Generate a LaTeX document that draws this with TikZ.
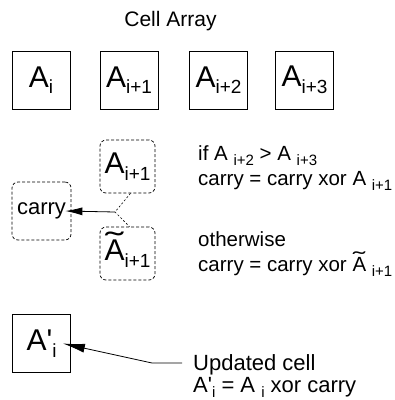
\documentclass[tikz,border=0pt]{standalone}
\usepackage{fontspec}
\usepackage{graphicx}
\setmainfont{Liberation Sans}
\usetikzlibrary{arrows.meta}
\newcommand{\fs}[1]{\fontsize{#1}{#1}\selectfont}
\newcommand{\cellA}[2]{{\fs{30}#1\raisebox{-6.5pt}{\fs{19}#2}}}
\newcommand{\lsub}[1]{\raisebox{-5pt}{\fs{15}#1}}
\newcommand{\tA}[1]{{\ooalign{A\cr\hidewidth\raisebox{#1}{\scalebox{1.8}[1]{\char"02DC}}\hidewidth\cr}}}
\begin{document}
\begin{tikzpicture}[x=1pt,y=-1pt,
  cell/.style={draw,line width=0.8pt,minimum width=58pt,minimum height=58pt,inner sep=0pt},
  dbox/.style={draw,line width=0.7pt,dash pattern=on 3pt off 2pt,rounded corners=6pt,minimum width=55pt,minimum height=53pt,inner sep=0pt},
  txt/.style={anchor=base west,inner sep=0pt,font=\fs{20.5}},
  dline/.style={line width=0.6pt,dash pattern=on 2pt off 2pt},
  arr/.style={line width=0.8pt,-{Latex[length=17pt,width=8pt]}},
  arrb/.style={line width=0.8pt,-{Latex[length=22pt,width=9pt]}},
  ]
\useasboundingbox (0,0) rectangle (395,400);
% title
\node[anchor=base,inner sep=0pt,font=\fs{21}] (title) at (170.5,26) {Cell Array};
% cell array
\node[cell] (c0) at (41,80) {\cellA{A}{i}};
\node[cell] (c1) at (129,80) {\cellA{A}{i+1}};
\node[cell] (c2) at (218.5,80) {\cellA{A}{i+2}};
\node[cell] (c3) at (304.5,80) {\cellA{A}{i+3}};
% choice boxes
\node[dbox] (a1) at (127.5,166.5) {\cellA{A}{i+1}};
\node[dbox] (at) at (127.5,253.5) {\cellA{\tA{7pt}}{i+1}};
\node[dbox,minimum width=59pt,minimum height=58pt] (carry) at (41.5,211) {\fs{22}carry};
\coordinate (J) at (115,212);
\draw[dline] ([xshift=3pt]a1.south) -- (J) -- ([xshift=2pt]at.north);
\draw[arr] (J) -- ([xshift=-6pt]carry.east);
% texts
\node[txt] (t1) at (198,160) {if A \lsub{i+2} > A \lsub{i+3}};
\node[txt] (t2) at (198,185) {carry = carry xor A \lsub{i+1}};
\node[txt] (t3) at (198,246) {otherwise};
\node[txt] (t4) at (198,271) {carry = carry xor \tA{5pt} \lsub{i+1}};
% updated cell
\node[cell] (ap) at (41.5,343.5) {{\fs{30}A\textquotesingle\raisebox{-6.5pt}{\fs{19}i}}};
\node[txt,font=\fs{22}] (u1) at (193,370) {Updated cell};
\node[txt,font=\fs{22}] (u2) at (193,392) {A\textquotesingle\lsub{i} = A \lsub{i} xor carry};
\coordinate (B) at (152,363);
\draw[arrb] ([xshift=-11pt,yshift=7pt]u1.base west) -- (B) -- ([xshift=-8pt]ap.east);
\end{tikzpicture}
\end{document}
